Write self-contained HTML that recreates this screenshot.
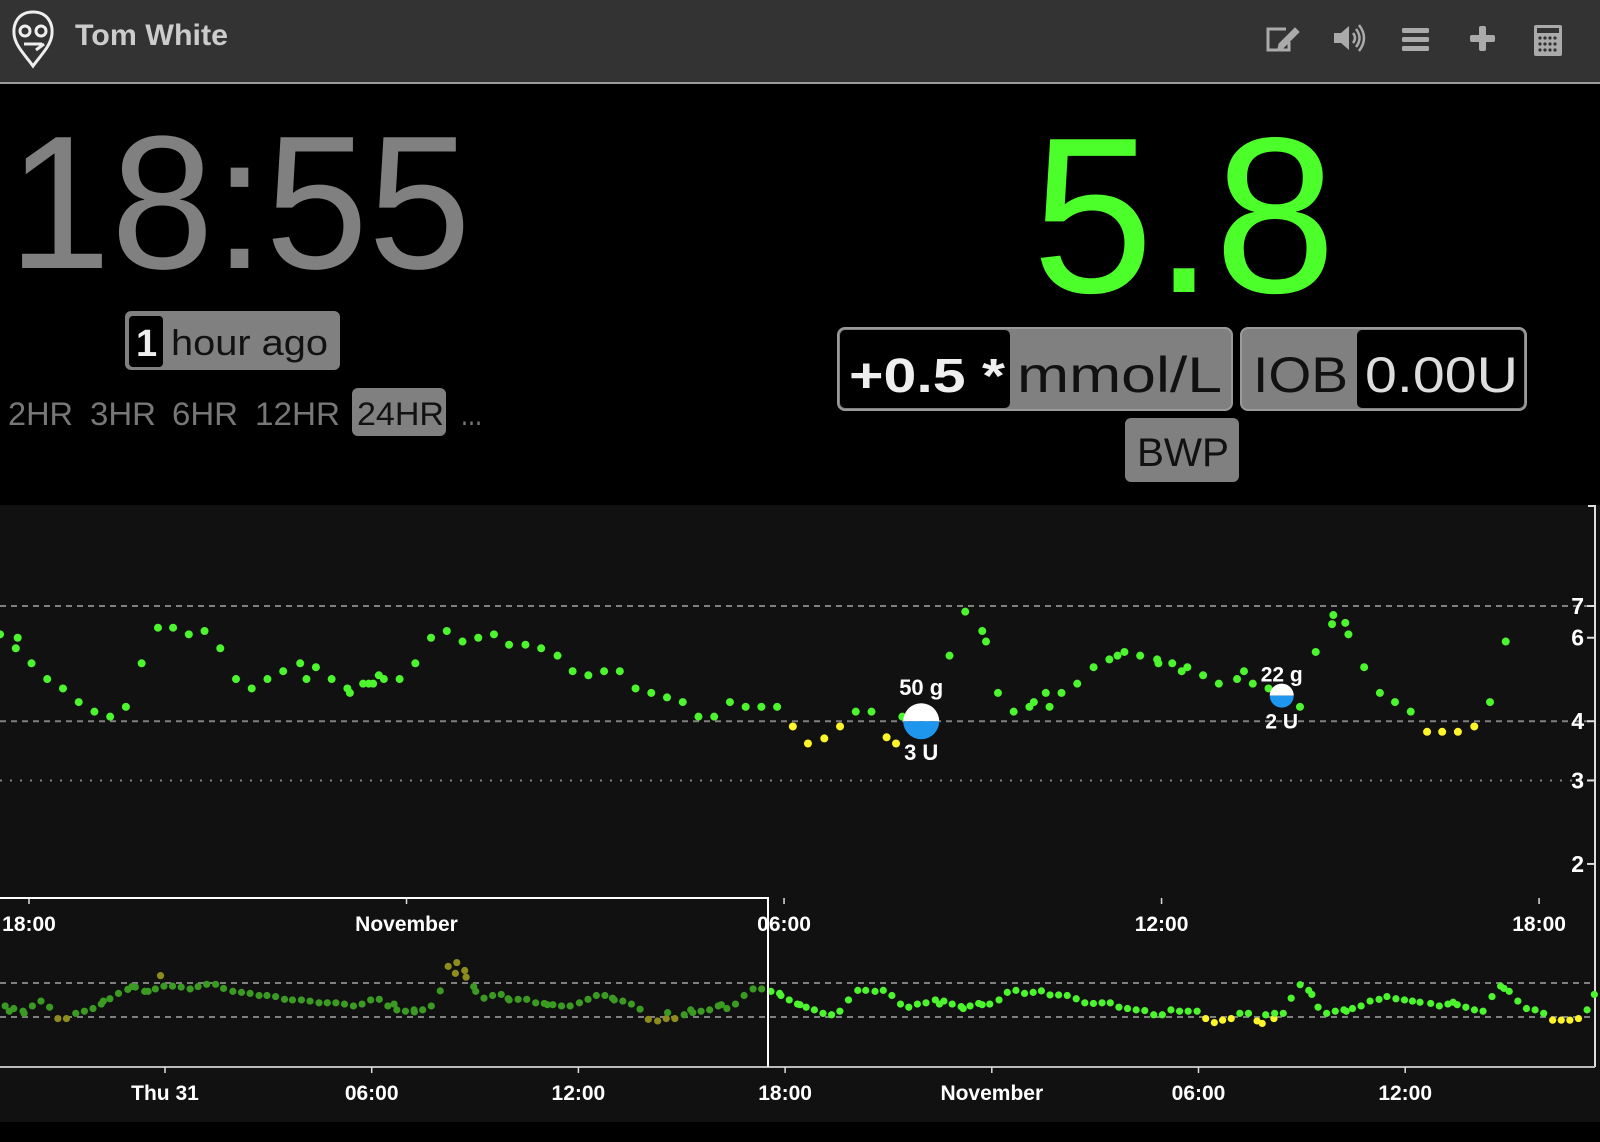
<!DOCTYPE html>
<html><head><meta charset="utf-8"><title>Nightscout - Tom White</title>
<style>
html,body{margin:0;padding:0;background:#000;width:1600px;height:1142px;overflow:hidden}
svg{display:block;font-family:"Liberation Sans",sans-serif}
</style></head>
<body>
<svg id="page" width="1600" height="1142" viewBox="0 0 1600 1142" xmlns="http://www.w3.org/2000/svg">
  <rect x="0" y="0" width="1600" height="1142" fill="#000"/>
  <g>
    <rect x="0" y="0" width="1600" height="82" fill="#333"/>
    <rect x="0" y="82" width="1600" height="2" fill="#9a9a9a"/>
    <g fill="none" stroke="#eee" stroke-width="3">
      <path d="M33 12 C18 12 13 24 14 34 C15 46 26 56 33 66 C40 56 51 46 52 34 C53 24 48 12 33 12 Z"/>
      <circle cx="25" cy="31" r="5"/><circle cx="41" cy="31" r="5"/>
      <path d="M24 44 L42 44 M36 50 L44 44"/>
    </g>
    <text x="75" y="45" font-size="30" font-weight="bold" fill="#ccc" textLength="153" lengthAdjust="spacingAndGlyphs">Tom White</text>
    <g fill="none" stroke="#aaa" stroke-width="3">
      <path d="M1286 29 L1268 29 L1268 50 L1289 50 L1289 42"/>
      <path d="M1279 44 L1295 28 L1299 32 L1283 48 L1278 49 Z" fill="#aaa" stroke-width="1"/>
    </g>
    <g>
      <path d="M1334 33 L1341 33 L1349 26 L1349 50 L1341 43 L1334 43 Z" fill="#aaa"/>
      <path d="M1353 33 Q1357 38 1353 43 M1356 29 Q1363 38 1356 47 M1359 25 Q1369 38 1359 51" fill="none" stroke="#aaa" stroke-width="2.5"/>
    </g>
    <g fill="#aaa">
      <rect x="1402" y="28" width="27" height="5" rx="1.5"/><rect x="1402" y="37" width="27" height="5" rx="1.5"/><rect x="1402" y="46" width="27" height="5" rx="1.5"/>
    </g>
    <g fill="#aaa">
      <rect x="1470" y="35" width="25" height="7" rx="2"/><rect x="1479" y="26" width="7" height="25" rx="2"/>
    </g>
    <g>
      <rect x="1534" y="25" width="28" height="31" rx="2" fill="#aaa"/>
      <rect x="1537" y="28" width="22" height="5" fill="#333"/>
      <g fill="#333">
        <circle cx="1540" cy="38" r="1.6"/><circle cx="1545" cy="38" r="1.6"/><circle cx="1550" cy="38" r="1.6"/><circle cx="1555" cy="38" r="1.6"/>
        <circle cx="1540" cy="44" r="1.6"/><circle cx="1545" cy="44" r="1.6"/><circle cx="1550" cy="44" r="1.6"/><circle cx="1555" cy="44" r="1.6"/>
        <circle cx="1540" cy="50" r="1.6"/><circle cx="1545" cy="50" r="1.6"/><circle cx="1550" cy="50" r="1.6"/><circle cx="1555" cy="50" r="1.6"/>
      </g>
    </g>
  </g>

  <text x="8" y="268" font-size="190" fill="#808080" textLength="463" lengthAdjust="spacingAndGlyphs">18:55</text>
  <g>
    <rect x="125" y="311" width="215" height="59" rx="6" fill="#808080"/>
    <rect x="129" y="316" width="34" height="51" rx="4" fill="#000"/>
    <text x="136" y="356" font-size="38" font-weight="bold" fill="#eee">1</text>
    <text x="171" y="355" font-size="36" fill="#111" textLength="157" lengthAdjust="spacingAndGlyphs">hour ago</text>
  </g>
  <g font-size="32" fill="#777">
    <text x="8" y="425" textLength="65" lengthAdjust="spacingAndGlyphs">2HR</text>
    <text x="90" y="425" textLength="66" lengthAdjust="spacingAndGlyphs">3HR</text>
    <text x="172" y="425" textLength="66" lengthAdjust="spacingAndGlyphs">6HR</text>
    <text x="255" y="425" textLength="85" lengthAdjust="spacingAndGlyphs">12HR</text>
    <rect x="352" y="388" width="94" height="48" rx="6" fill="#808080"/>
    <text x="357" y="425" fill="#111" textLength="87" lengthAdjust="spacingAndGlyphs">24HR</text>
    <text x="461" y="425" textLength="21" lengthAdjust="spacingAndGlyphs">...</text>
  </g>

  <text x="1032" y="292" font-size="222" fill="#4cff2a" textLength="304" lengthAdjust="spacingAndGlyphs">5.8</text>
  <g>
    <rect x="838" y="328" width="394" height="82" rx="7" fill="#808080" stroke="#9a9a9a" stroke-width="2"/>
    <rect x="840" y="330" width="170" height="78" rx="5" fill="#000"/>
    <text x="849" y="392" font-size="48" font-weight="bold" fill="#eee" textLength="156" lengthAdjust="spacingAndGlyphs">+0.5 *</text>
    <text x="1017" y="392" font-size="50" fill="#111" textLength="205" lengthAdjust="spacingAndGlyphs">mmol/L</text>
  </g>
  <g>
    <rect x="1241" y="328" width="285" height="82" rx="7" fill="#808080" stroke="#9a9a9a" stroke-width="2"/>
    <text x="1253" y="392" font-size="50" fill="#111" textLength="95" lengthAdjust="spacingAndGlyphs">IOB</text>
    <rect x="1357" y="330" width="167" height="78" rx="5" fill="#000"/>
    <text x="1365" y="392" font-size="50" fill="#ddd" textLength="153" lengthAdjust="spacingAndGlyphs">0.00U</text>
  </g>
  <g>
    <rect x="1125" y="418" width="114" height="64" rx="6" fill="#808080"/>
    <text x="1137" y="466" font-size="40" fill="#111" textLength="92" lengthAdjust="spacingAndGlyphs">BWP</text>
  </g>

  <g id="chart">
    <rect x="0" y="505" width="1600" height="617" fill="#111"/>
  </g>
</svg>
<script>
// ---- focus chart data (hours since Thu 31 00:00, mmol/L) ----
const focusTimes = [17.54,17.79,17.82,18.04,18.29,18.54,18.79,19.04,19.29,19.54,19.79,20.05,20.29,20.54,20.79,21.04,21.29,21.54,21.79,22.04,22.31,22.41,22.56,22.81,23.06,23.10,23.31,23.40,23.47,23.56,23.64,23.89,24.14,24.39,24.64,24.89,25.14,25.39,25.63,25.89,26.14,26.40,26.64,26.89,27.14,27.39,27.64,27.89,28.14,28.39,28.64,28.89,29.14,29.39,29.64,29.89,30.14,30.38,30.64,30.89,31.14,31.39,31.63,31.78,31.88,32.63,32.88,33.15,33.21,33.40,33.65,33.90,33.97,34.16,34.22,34.41,34.66,34.92,35.17,35.30,35.41,35.66,35.93,35.95,36.17,36.32,36.41,36.66,36.91,37.20,37.31,37.45,37.70,38.20,38.45,38.71,38.73,38.92,38.97,39.22,39.47,39.71,39.96,40.22,40.46,40.71,40.97,41.22,41.47];
const focusValues = [6.10,5.70,6.00,5.30,4.91,4.69,4.39,4.19,4.09,4.29,5.30,6.30,6.30,6.10,6.20,5.70,4.91,4.69,4.91,5.10,5.30,4.91,5.20,4.91,4.69,4.59,4.80,4.80,4.80,5.00,4.91,4.91,5.30,6.00,6.20,5.89,6.00,6.10,5.80,5.80,5.70,5.50,5.10,5.00,5.10,5.10,4.69,4.59,4.49,4.39,4.09,4.09,4.39,4.29,4.29,4.29,3.90,3.59,3.68,3.90,4.19,4.19,3.70,3.59,4.09,5.50,6.81,6.20,5.89,4.59,4.19,4.29,4.39,4.59,4.29,4.59,4.80,5.20,5.40,5.50,5.60,5.50,5.40,5.30,5.30,5.10,5.20,5.00,4.80,4.91,5.10,4.80,4.69,4.29,5.60,6.41,6.70,6.45,6.10,5.20,4.59,4.39,4.19,3.80,3.80,3.80,3.90,4.39,5.89];
const focusTickValues = [7,6,4,3,2];
const focusTickLabels = ["7","6","4","3","2"];
const focusXTicks = [18,24,30,36,42];
const focusXLabels = ["18:00","November","06:00","12:00","18:00"];
const treatmentTimes = [32.18,37.91];
const treatmentValues = [4.0,4.53];
const treatmentCarbs = ["50 g","22 g"];
const treatmentInsulin = ["3 U","2 U"];
const treatmentRadius = [18,12];
// ---- context (brush) chart data ----
const contextTimes = [-4.64,-4.52,-4.39,-4.12,-4.09,-3.85,-3.60,-3.35,-3.11,-2.86,-2.59,-2.34,-2.09,-1.85,-1.79,-1.60,-1.35,-1.08,-0.96,-0.86,-0.59,-0.49,-0.28,-0.13,-0.03,0.22,0.47,0.73,0.96,1.21,1.47,1.70,1.97,2.22,2.47,2.73,2.96,3.21,3.47,3.70,3.96,4.21,4.47,4.71,4.96,5.21,5.47,5.72,5.97,6.22,6.47,6.65,6.73,6.98,7.23,7.24,7.48,7.73,7.99,8.22,8.47,8.43,8.70,8.74,8.96,9.02,9.26,9.51,9.76,9.96,9.99,10.25,10.50,10.76,11.01,11.10,11.26,11.51,11.76,12.03,12.28,12.52,12.77,12.99,13.04,13.29,13.54,13.79,14.03,14.30,14.55,14.59,14.80,15.07,15.26,15.32,15.56,15.81,16.06,16.15,16.31,16.56,16.81,17.07,17.32,17.59,17.84,17.88,18.12,18.36,
18.43,18.61,18.85,19.10,19.35,19.59,19.84,20.11,20.34,20.61,20.85,21.10,21.35,21.59,21.84,22.09,22.36,22.48,22.61,22.85,23.11,23.17,23.37,23.62,23.72,23.94,24.21,24.45,24.70,24.95,25.20,25.44,25.69,25.94,26.19,26.45,26.70,26.95,27.20,27.44,27.69,27.94,28.19,28.44,28.70,28.95,29.20,29.45,29.70,29.96,30.21,30.46,30.70,30.95,31.20,31.45,31.70,31.85,31.95,32.19,32.21,32.46,32.69,32.95,33.20,33.29,33.47,33.72,33.97,34.22,34.29,34.47,34.72,34.98,35.24,35.47,35.73,35.98,36.21,36.43,36.74,36.99,37.24,37.39,37.51,37.76,38.01,38.26,38.52,38.77,38.87,39.02,39.27,39.52,39.77,40.02,40.28,40.53,40.78,41.03,41.28,41.49];
const contextValues = [4.8,4.4,4.6,4.4,4.25,4.8,5.2,4.7,3.9,3.9,4.25,4.4,4.6,4.95,5.2,5.4,5.9,6.3,6.6,6.55,6.1,6.1,6.35,7.9,6.65,6.65,6.55,6.35,6.6,6.85,6.85,6.4,6.1,6.0,5.9,5.7,5.7,5.6,5.35,5.3,5.3,5.2,5.05,5.05,5.05,4.95,4.8,4.95,5.3,5.35,4.8,4.95,4.5,4.4,4.5,4.35,4.5,4.8,6.15,9.2,9.8,8.2,8.6,7.7,6.6,6.1,5.45,5.7,5.8,5.4,5.3,5.35,5.35,5.05,5.0,4.9,4.9,4.8,4.8,5.05,5.35,5.7,5.7,5.45,5.3,5.2,4.95,4.55,3.85,3.75,3.9,4.3,3.9,4.15,4.5,4.3,4.4,4.5,4.8,4.9,4.6,4.95,5.7,6.35,6.35,6.1,5.9,5.7,5.3,4.95,
4.9,4.7,4.5,4.25,4.15,4.4,5.3,6.2,6.2,6.1,6.2,5.7,4.95,4.7,4.95,5.05,5.3,4.95,5.2,4.95,4.75,4.6,4.8,5.0,4.9,4.95,5.3,6.0,6.2,5.9,6.0,6.15,5.75,5.75,5.7,5.4,5.05,5.0,5.05,5.05,4.7,4.6,4.5,4.45,4.15,4.15,4.5,4.4,4.4,4.4,3.9,3.65,3.8,3.9,4.25,4.25,3.75,3.6,4.15,3.9,4.25,4.25,5.45,6.8,6.2,5.8,4.7,4.25,4.4,4.5,4.4,4.6,4.8,5.2,5.35,5.6,5.4,5.3,5.2,5.1,5.0,4.8,4.95,5.1,4.9,4.7,4.5,4.4,5.6,6.65,6.4,6.1,5.2,4.6,4.5,4.25,3.8,3.8,3.8,3.9,4.5,5.8];
const contextXTicks = [0,6,12,18,24,30,36];
const contextXLabels = ["Thu 31","06:00","12:00","18:00","November","06:00","12:00"];
const targetLow = 4, targetHigh = 7, urgentLow = 3;

const NS = "http://www.w3.org/2000/svg";
const chart = document.getElementById('chart');
function fx(t){ return 29 + (t - 18) * 62.92; }
function fy(v){ return 606 + Math.log(7 / v) * 205.9; }
function cx(t){ return 165 + t * 34.45; }
function cy(v){ return 983 + Math.log(7 / v) * 60.8; }
function mk(tag, attrs, parent){
  const e = document.createElementNS(NS, tag);
  for (const k in attrs) e.setAttribute(k, attrs[k]);
  (parent || chart).appendChild(e);
  return e;
}
function col(v, dim){
  const out = v < targetLow || v > targetHigh;
  if (dim) return out ? '#8e8c1c' : '#3a9a22';
  return out ? '#fdf52a' : '#4cf52e';
}

let g = mk('line', {x1:0, x2:1595, y1:fy(targetHigh), y2:fy(targetHigh), stroke:'#808080', 'stroke-width':2, 'stroke-dasharray':'6,5'});


g = mk('line', {x1:0, x2:1595, y1:fy(targetLow), y2:fy(targetLow), stroke:'#808080', 'stroke-width':2, 'stroke-dasharray':'6,5'});


g = mk('line', {x1:0, x2:1595, y1:fy(urgentLow), y2:fy(urgentLow), stroke:'#808080', 'stroke-width':2, 'stroke-dasharray':'2,8'});


g = mk('line', {x1:0, x2:1595, y1:cy(targetHigh), y2:cy(targetHigh), stroke:'#808080', 'stroke-width':2, 'stroke-dasharray':'6,5'});


g = mk('line', {x1:0, x2:1595, y1:cy(targetLow), y2:cy(targetLow), stroke:'#808080', 'stroke-width':2, 'stroke-dasharray':'6,5'});



g = mk('line', {x1:1595, x2:1595, y1:505, y2:1067, stroke:'#ddd', 'stroke-width':2});


g = mk('line', {x1:0, x2:1595, y1:1067, y2:1067, stroke:'#bbb', 'stroke-width':2});


g = mk('line', {x1:1588, x2:1595, y1:506, y2:506, stroke:'#ddd', 'stroke-width':2});



focusTickValues.forEach((v, i) => {
  const y = fy(v);
  const t = mk('line', {x1:1587, x2:1595, y1:y, y2:y, stroke:'#ddd', 'stroke-width':2});
  
  
  const l = mk('text', {x:1584, y:y+8, 'text-anchor':'end', 'font-size':23, 'font-weight':'bold', fill:'#fff'});
  l.textContent = focusTickLabels[i];
  
  
});
focusXTicks.forEach((t, i) => {
  const x = fx(t);
  const tk = mk('line', {x1:x, x2:x, y1:898, y2:904, stroke:'#ddd', 'stroke-width':1.5});
  
  
  const l = mk('text', {x:x, y:931, 'text-anchor':'middle', 'font-size':21, 'font-weight':'bold', fill:'#fff'});
  l.textContent = focusXLabels[i];
  
  
});
contextXTicks.forEach((t, i) => {
  const x = cx(t);
  const tk = mk('line', {x1:x, x2:x, y1:1067, y2:1073, stroke:'#ddd', 'stroke-width':1.5});
  
  
  const l = mk('text', {x:x, y:1100, 'text-anchor':'middle', 'font-size':21, 'font-weight':'bold', fill:'#fff'});
  l.textContent = contextXLabels[i];
  
  
});

contextTimes.forEach((t, i) => {
  const x = cx(t);
  const c = mk('circle', {cx:x, cy:cy(contextValues[i]), r:3.6, fill:col(contextValues[i], x < 768)});
  
  
});
g = mk('path', {d:'M0 898 L768 898 L768 1067', fill:'none', stroke:'#fff', 'stroke-width':2});



focusTimes.forEach((t, i) => {
  const c = mk('circle', {cx:fx(t), cy:fy(focusValues[i]), r:4, fill:col(focusValues[i], false)});
  
  
});

treatmentTimes.forEach((t, i) => {
  const x = fx(t), y = fy(treatmentValues[i]), r = treatmentRadius[i];
  const grp = mk('g', {});
  
  
  mk('path', {d:`M${x-r} ${y} A${r} ${r} 0 0 1 ${x+r} ${y} Z`, fill:'#fff'}, grp);
  mk('path', {d:`M${x-r} ${y} A${r} ${r} 0 0 0 ${x+r} ${y} Z`, fill:'#1e96ee'}, grp);
  const fs = r > 15 ? 22 : 21;
  const a = mk('text', {x:x, y:y - r - (r > 15 ? 8 : 2), 'text-anchor':'middle', 'font-size':fs, 'font-weight':'bold', fill:'#fff'}, grp);
  a.textContent = treatmentCarbs[i];
  
  
  const b = mk('text', {x:x, y:y + r + 21, 'text-anchor':'middle', 'font-size':fs, 'font-weight':'bold', fill:'#fff'}, grp);
  b.textContent = treatmentInsulin[i];
  
  
});
</script>
</body></html>
